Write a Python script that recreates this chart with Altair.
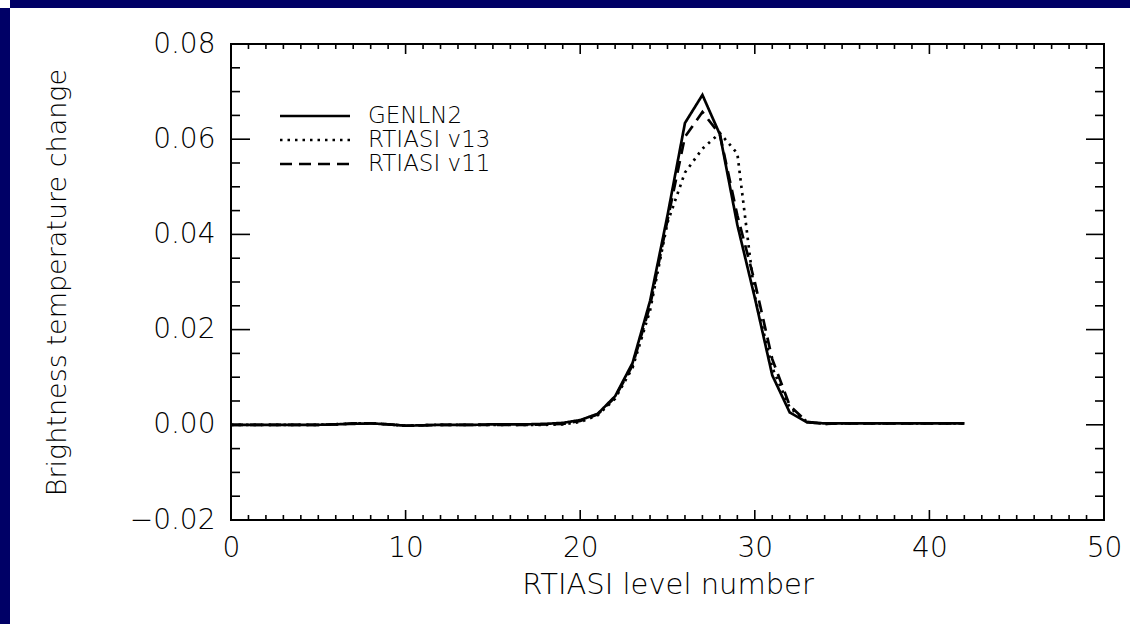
import altair as alt
import pandas as pd

# ---------------- data ----------------
levels = list(range(43))

genln2 = [0, 0, 0, 0, 0, 0, 0.0001, 0.0002, 0.0003, 0.0001,
          -0.0002, -0.0001, 0, 0, 0, 0.0001, 0.0001, 0.0001, 0.0002, 0.0004,
          0.0010, 0.0023, 0.0060, 0.0130, 0.0260, 0.0440, 0.0634, 0.0693, 0.0610, 0.0420,
          0.0267, 0.0104, 0.0026, 0.0005, 0.0003, 0.0003, 0.0003, 0.0003, 0.0003, 0.0003,
          0.0003, 0.0003, 0.0003]

rtiasi_v13 = [0, 0, 0, 0, 0, 0, 0.0001, 0.0003, 0.0003, 0.0001,
              -0.0002, -0.0001, 0, 0, 0, 0, 0, 0, 0, 0.0001,
              0.0006, 0.0020, 0.0055, 0.0120, 0.0240, 0.0425, 0.0530, 0.0580, 0.0613, 0.0570,
              0.0270, 0.0120, 0.0036, 0.0006, 0.0002, 0.0003, 0.0003, 0.0003, 0.0003, 0.0003,
              0.0003, 0.0003, 0.0003]

rtiasi_v11 = [0, 0, 0, 0, 0, 0, 0.0001, 0.0003, 0.0003, 0.0001,
              -0.0002, -0.0001, 0, 0, 0, 0, 0, 0, 0.0001, 0.0002,
              0.0008, 0.0022, 0.0058, 0.0125, 0.0250, 0.0430, 0.0605, 0.0657, 0.0610, 0.0440,
              0.0300, 0.0138, 0.0040, 0.0006, 0.0002, 0.0003, 0.0003, 0.0003, 0.0003, 0.0003,
              0.0003, 0.0003, 0.0003]

series_names = ["GENLN2", "RTIASI v13", "RTIASI v11"]

x_major = [0, 10, 20, 30, 40, 50]
x_minor = [1, 2, 3, 4, 5, 6, 7, 8, 9, 11, 12, 13, 14, 15, 16, 17, 18, 19,
           21, 22, 23, 24, 25, 26, 27, 28, 29, 31, 32, 33, 34, 35, 36, 37, 38, 39,
           41, 42, 43, 44, 45, 46, 47, 48, 49]
y_major = [-0.02, 0.0, 0.02, 0.04, 0.06, 0.08]
y_minor = [-0.015, -0.01, -0.005, 0.005, 0.01, 0.015, 0.025, 0.03, 0.035,
           0.045, 0.05, 0.055, 0.065, 0.07, 0.075]

# ---------------- layout ----------------
W, H = 873, 476
PAD = {"left": 231, "top": 44, "right": 28, "bottom": 106}
FONT = "DejaVu Sans"
FW = 200
NAVY = "#000066"
DASHES = [[1, 0], [2.5, 5], [12, 7]]

xs = alt.Scale(domain=[0, 50], nice=False, zero=False)
ys = alt.Scale(domain=[-0.02, 0.08], nice=False, zero=False)

x_axis = alt.Axis(values=x_major, format="d", title="RTIASI level number",
                  ticks=False, tickSize=0, domain=False, grid=False, labelFlush=False,
                  labelFont=FONT, labelFontSize=28, labelFontWeight=FW,
                  labelColor="black", labelPadding=14,
                  titleFont=FONT, titleFontSize=29, titleFontWeight=FW,
                  titleColor="black", titlePadding=8)
y_axis = alt.Axis(values=y_major, format=".2f", title="Brightness temperature change",
                  ticks=False, tickSize=0, domain=False, grid=False,
                  labelFont=FONT, labelFontSize=28, labelFontWeight=FW,
                  labelColor="black", labelPadding=16,
                  titleFont=FONT, titleFontSize=27, titleFontWeight=FW,
                  titleColor="black", titlePadding=58)

rows = []
for name, vals in zip(series_names, [genln2, rtiasi_v13, rtiasi_v11]):
    for lv, v in zip(levels, vals):
        rows.append({"level": lv, "value": v, "series": name})
df = pd.DataFrame(rows)

dash_scale = alt.Scale(domain=series_names, range=DASHES)

lines = alt.Chart(df).mark_line(color="black", strokeWidth=2.7, clip=True).encode(
    x=alt.X("level:Q", scale=xs, axis=x_axis),
    y=alt.Y("value:Q", scale=ys, axis=y_axis),
    strokeDash=alt.StrokeDash("series:N", scale=dash_scale, legend=None),
    order="level:Q",
)


def tick_layer(vals, field_ch, a, b):
    d = pd.DataFrame({"v": vals})
    if field_ch == "x":
        return alt.Chart(d).mark_rule(color="black", strokeWidth=1.6).encode(
            x=alt.X("v:Q", scale=xs, axis=x_axis), y=alt.value(a), y2=alt.value(b))
    return alt.Chart(d).mark_rule(color="black", strokeWidth=1.6).encode(
        y=alt.Y("v:Q", scale=ys, axis=y_axis), x=alt.value(a), x2=alt.value(b))


ticks = [
    tick_layer(x_major, "x", H - 10, H),
    tick_layer(x_minor, "x", H - 5, H),
    tick_layer(x_major, "x", 0, 10),
    tick_layer(x_minor, "x", 0, 5),
    tick_layer(y_major, "y", 0, 19),
    tick_layer(y_minor, "y", 0, 9),
    tick_layer(y_major, "y", W - 18, W),
    tick_layer(y_minor, "y", W - 9, W),
]

# navy strips at the top and left edges of the slide
left_strip = alt.Chart(pd.DataFrame({"k": ["left"]})).mark_rect(color=NAVY).encode(
    x=alt.value(-PAD["left"]), x2=alt.value(-PAD["left"] + 10),
    y=alt.value(-PAD["top"] + 8), y2=alt.value(H + PAD["bottom"] - 2))
top_strip = alt.Chart(pd.DataFrame({"k": ["top"]})).mark_rect(color=NAVY).encode(
    x=alt.value(-PAD["left"] + 10), x2=alt.value(W + PAD["right"] - 2),
    y=alt.value(-PAD["top"]), y2=alt.value(-PAD["top"] + 8))

main = alt.layer(left_strip, top_strip, *ticks, lines)

# legend drawn as its own small layer with a pixel-range point scale for the rows
leg_df = pd.DataFrame({"series": series_names})
leg_y = alt.Y("series:N", scale=alt.Scale(type="point", domain=series_names,
                                          range=[72, 120], padding=0), axis=None)
leg_rules = alt.Chart(leg_df).mark_rule(color="black", strokeWidth=2.7).encode(
    x=alt.value(49), x2=alt.value(119), y=leg_y,
    strokeDash=alt.StrokeDash("series:N", scale=dash_scale, legend=None))
leg_text = alt.Chart(leg_df).mark_text(
    align="left", baseline="middle", font=FONT, fontSize=23, fontWeight=FW,
    color="black").encode(
    x=alt.value(137), y=leg_y, text="series:N")
legend = alt.layer(leg_rules, leg_text)

chart = alt.layer(main, legend).resolve_scale(y="independent").properties(
    width=W, height=H,
    padding=PAD,
    autosize=alt.AutoSizeParams(type="none"),
    background="white",
).configure_view(stroke="black", strokeWidth=2)

chart.save("out.html", embed_options={"renderer": "svg", "actions": False})
